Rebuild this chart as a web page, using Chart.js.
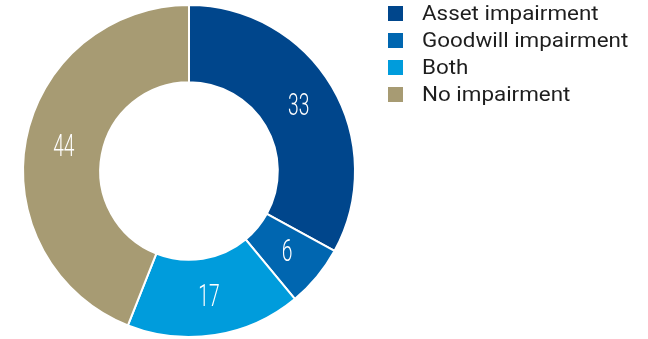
<!DOCTYPE html>
<html>
<head>
<meta charset="utf-8">
<script src="https://cdn.jsdelivr.net/npm/chart.js@4/dist/chart.umd.min.js"></script>
<style>
  html, body { margin: 0; padding: 0; background: #fff; }
  #wrap { position: relative; width: 648px; height: 339px; overflow: hidden; }
  #chart { position: absolute; left: 0; top: 0; }
  #legend { position: absolute; left: 388px; top: 0px; margin: 0; padding: 0; list-style: none;
            font-family: Roboto, "Liberation Sans", sans-serif; font-weight: 400; font-size: 20px; color: #1e1e1e; }
  #legend li { height: 27px; line-height: 27px; display: flex; align-items: center; white-space: nowrap; }
  #legend .sw { width: 15px; height: 15px; margin-right: 19px; flex: none; }
  #legend .tx { display: inline-block; transform: scaleX(1.12); transform-origin: left center; }
</style>
</head>
<body>
<div id="wrap">
  <canvas id="chart" width="648" height="339"></canvas>
  <ul id="legend"></ul>
</div>
<script>
// Share of companies by type of impairment recognised (%)
const categories = ['Asset impairment', 'Goodwill impairment', 'Both', 'No impairment'];
const shares = [33, 6, 17, 44];
const colours = ['#00468c', '#0066b0', '#009cdc', '#a79b73'];

// Value labels drawn inside each slice in a light, narrow face
const sliceLabels = {
  id: 'sliceLabels',
  afterDatasetsDraw(chart) {
    const { ctx } = chart;
    const meta = chart.getDatasetMeta(0);
    meta.data.forEach((arc, i) => {
      const p = arc.tooltipPosition();
      ctx.save();
      ctx.translate(p.x, p.y);
      ctx.scale(0.62, 1);
      ctx.fillStyle = '#ffffff';
      ctx.font = '300 31px Roboto, "DejaVu Sans", sans-serif';
      ctx.textAlign = 'center';
      ctx.textBaseline = 'middle';
      ctx.fillText(String(chart.data.datasets[0].data[i]), 0, 1);
      ctx.restore();
    });
  }
};

new Chart(document.getElementById('chart'), {
  type: 'doughnut',
  data: {
    labels: categories,
    datasets: [{
      data: shares,
      backgroundColor: colours,
      borderColor: '#ffffff',
      borderWidth: 2,
      hoverOffset: 0
    }]
  },
  options: {
    responsive: false,
    animation: false,
    cutout: '53.5%',
    layout: { padding: { left: 22, right: 292, top: 4, bottom: 1 } },
    plugins: {
      legend: { display: false },
      tooltip: { enabled: false }
    }
  },
  plugins: [sliceLabels]
});

// Legend list on the right
const legend = document.getElementById('legend');
categories.forEach((name, i) => {
  const li = document.createElement('li');
  const sw = document.createElement('span');
  sw.className = 'sw';
  sw.style.background = colours[i];
  const tx = document.createElement('span');
  tx.className = 'tx';
  tx.textContent = name;
  li.appendChild(sw);
  li.appendChild(tx);
  legend.appendChild(li);
});
</script>
</body>
</html>
